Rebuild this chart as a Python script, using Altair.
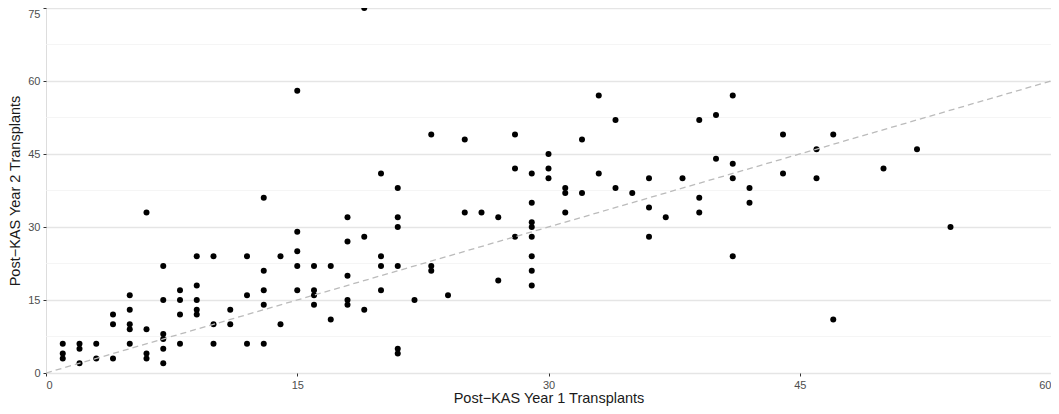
import altair as alt
import pandas as pd

# Post-KAS Year 1 transplants (x) and Year 2 transplants (y), one entry per point
year1 = [1, 1, 1,
         2, 2, 2,
         3, 3,
         4, 4, 4,
         5, 5, 5, 5, 5,
         6, 6, 6, 6,
         7, 7, 7, 7, 7, 7,
         8, 8, 8, 8,
         9, 9, 9, 9, 9,
         10, 10, 10,
         11, 11,
         12, 12, 12,
         13, 13, 13, 13, 13,
         14, 14,
         15, 15, 15, 15, 15,
         16, 16, 16, 16,
         17, 17,
         18, 18, 18, 18, 18,
         19, 19, 19,
         20, 20, 20, 20,
         21, 21, 21, 21, 21, 21,
         22,
         23, 23, 23,
         24,
         25, 25,
         26,
         27, 27,
         28, 28, 28,
         29, 29, 29, 29, 29, 29, 29, 29,
         30, 30, 30,
         31, 31, 31,
         32, 32,
         33, 33,
         34, 34,
         35,
         36, 36, 36,
         37,
         38,
         39, 39, 39,
         40, 40,
         41, 41, 41, 41,
         42, 42,
         44, 44,
         46, 46,
         47, 47,
         50,
         52,
         54]
year2 = [6, 4, 3,
         6, 5, 2,
         6, 3,
         12, 10, 3,
         16, 13, 10, 9, 6,
         33, 9, 4, 3,
         22, 15, 8, 7, 5, 2,
         17, 15, 12, 6,
         24, 18, 15, 13, 12,
         24, 10, 6,
         13, 10,
         24, 16, 6,
         36, 21, 17, 14, 6,
         24, 10,
         58, 29, 25, 22, 17,
         22, 17, 16, 14,
         22, 11,
         32, 27, 20, 15, 14,
         75, 28, 13,
         41, 24, 22, 17,
         38, 32, 30, 22, 5, 4,
         15,
         49, 22, 21,
         16,
         48, 33,
         33,
         32, 19,
         49, 42, 28,
         41, 35, 31, 30, 28, 24, 21, 18,
         45, 42, 40,
         38, 37, 33,
         48, 37,
         57, 41,
         52, 38,
         37,
         40, 34, 28,
         32,
         40,
         52, 36, 33,
         53, 44,
         57, 43, 40, 24,
         38, 35,
         49, 41,
         46, 40,
         49, 11,
         42,
         46,
         30]

x_ticks = [0, 15, 30, 45, 60]
y_ticks = [0, 15, 30, 45, 60, 75]
y_minor = [7.5, 22.5, 37.5, 52.5, 67.5]
ref_line = {"x": [0], "y": [0], "x2": [60], "y2": [60]}

points = pd.DataFrame({"x": year1, "y": year2})
minor = pd.DataFrame({"y": y_minor})
diag = pd.DataFrame(ref_line)

FONT = "Liberation Sans"

xscale = alt.Scale(domain=[0, 60], nice=False, zero=False)
yscale = alt.Scale(domain=[0, 75], nice=False, zero=False)

minor_grid = alt.Chart(minor).mark_rule(color="#F3F3F3", strokeWidth=0.8).encode(
    y=alt.Y("y:Q", scale=yscale)
)

dots = alt.Chart(points).mark_circle(color="black", opacity=1, size=36).encode(
    x=alt.X("x:Q", scale=xscale,
            axis=alt.Axis(values=x_ticks, title="Post\u2212KAS Year 1 Transplants",
                          grid=False, domain=False, ticks=True, tickSize=3,
                          tickColor="#333333", labelColor="#4D4D4D", labelFontSize=11,
                          labelPadding=3, titleFontSize=14.5, titleColor="#1A1A1A",
                          titleFontWeight="normal", titlePadding=1, labelFont=FONT,
                          titleFont=FONT)),
    y=alt.Y("y:Q", scale=yscale,
            axis=alt.Axis(values=y_ticks, title="Post\u2212KAS Year 2 Transplants",
                          grid=True, gridColor="#E5E5E5", gridWidth=1.3,
                          domain=False, ticks=True, tickSize=3,
                          tickColor="#333333", labelColor="#4D4D4D", labelFontSize=11,
                          labelPadding=3,
                          labelBaseline={"condition": {"test": "datum.value == 75", "value": "top"},
                                         "value": "middle"},
                          titleFontSize=14.5, titleColor="#1A1A1A",
                          titleFontWeight="normal", titlePadding=5, labelFont=FONT,
                          titleFont=FONT)),
)

line = alt.Chart(diag).mark_rule(color="#BBBBBB", strokeWidth=1.3, strokeDash=[6, 4]).encode(
    x=alt.X("x:Q", scale=xscale),
    y=alt.Y("y:Q", scale=yscale),
    x2="x2:Q",
    y2="y2:Q",
)

chart = alt.layer(minor_grid, dots, line).properties(
    width=1005, height=365,
    autosize=alt.AutoSizeParams(type="none"),
    padding={"left": 38, "top": 0, "right": 0, "bottom": 33},
).configure_view(stroke=None).configure(background="white")

chart.save("out.html", embed_options={"renderer": "svg", "actions": False})
